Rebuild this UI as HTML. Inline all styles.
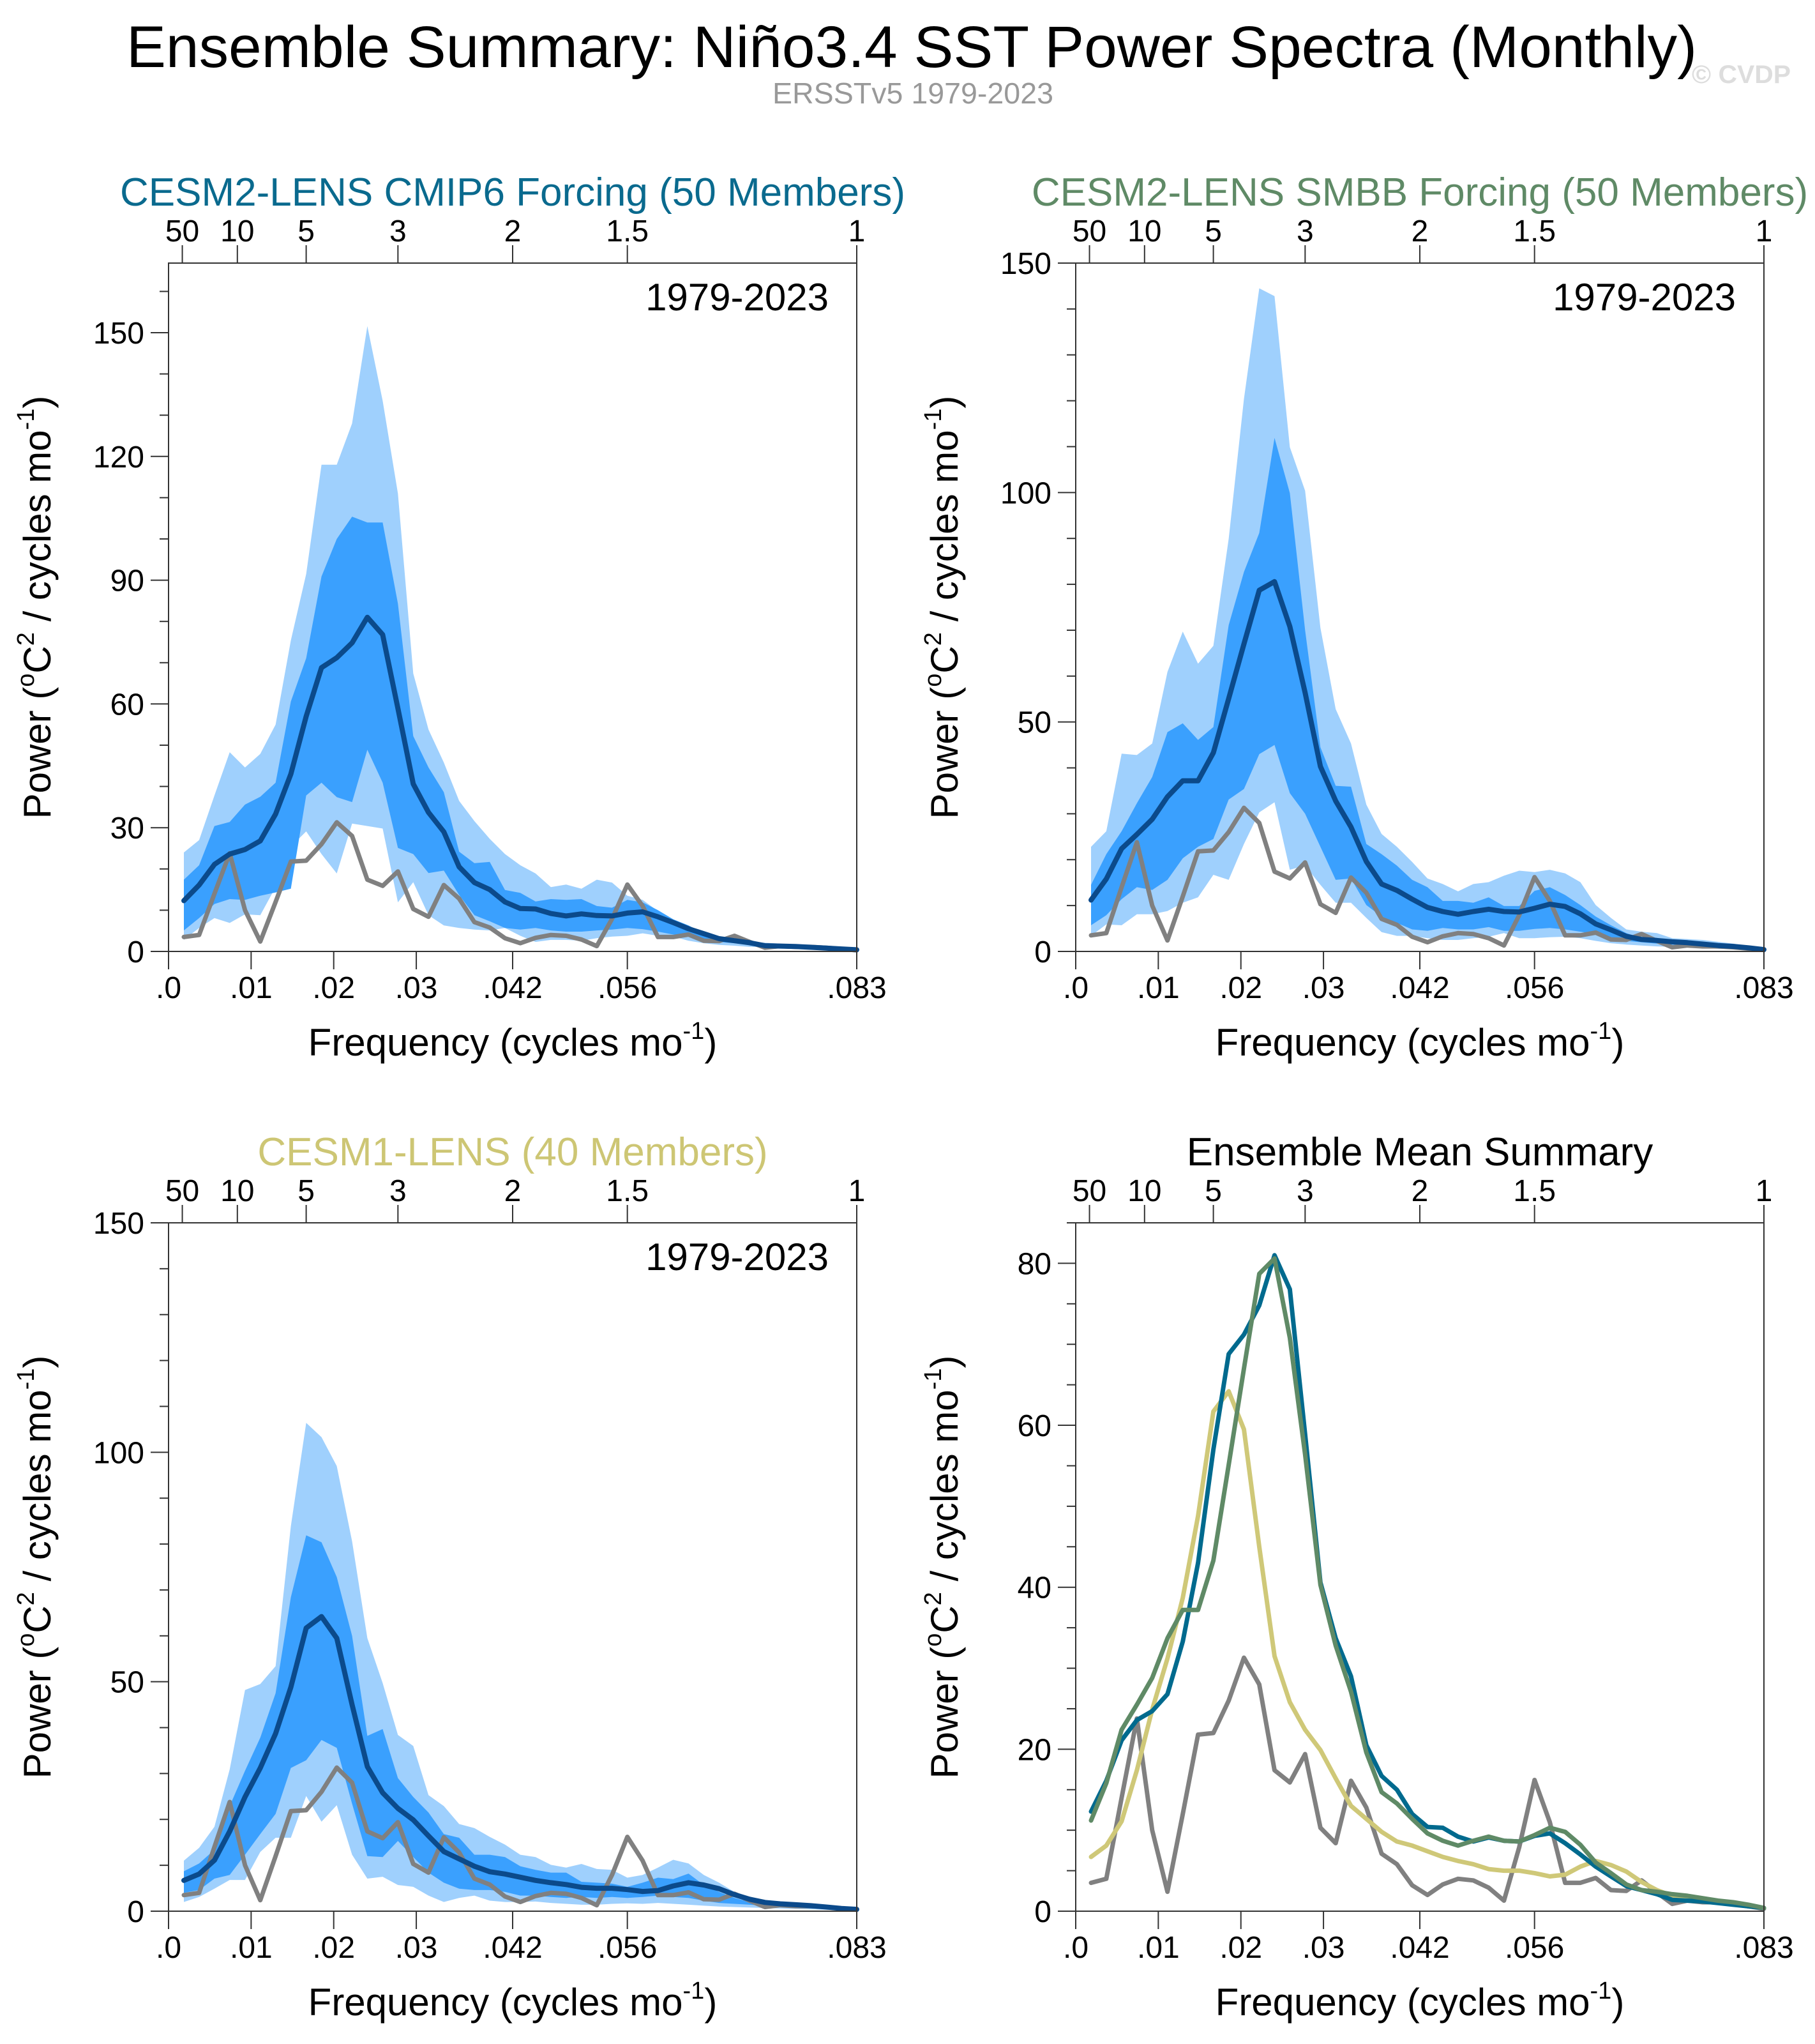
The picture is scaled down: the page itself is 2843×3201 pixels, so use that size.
<!DOCTYPE html>
<html>
<head>
<meta charset="utf-8">
<style>
  html, body { margin:0; padding:0; background:#ffffff; }
  svg { display:block; font-family:"Liberation Sans", Arial, sans-serif; }
</style>
</head>
<body>
<svg id="fig" xmlns="http://www.w3.org/2000/svg" width="2843" height="3201" viewBox="0 0 2843 3201">
  <rect x="0" y="0" width="2843" height="3201" fill="#ffffff"/>
  <text x="1428" y="105" font-size="92" text-anchor="middle" fill="#000" textLength="2460" lengthAdjust="spacingAndGlyphs">Ensemble Summary: Niño3.4 SST Power Spectra (Monthly)</text>
  <text x="1430" y="162" font-size="46" text-anchor="middle" fill="#999999" textLength="440" lengthAdjust="spacingAndGlyphs">ERSSTv5 1979-2023</text>
  <text x="2650" y="130" font-size="40" font-weight="bold" fill="#dddddd" textLength="155" lengthAdjust="spacingAndGlyphs">© CVDP</text>
  <g id="panels"></g>
</svg>
<script>
// ---------- data (45 spectral estimates, k = 1..45, freq = k/540 cycles/mo) ----------
const nPoints = 45;
const obs = [3.5,4.0,14,23.8,10,2.4,12,21.8,22,26,31.3,28,17.4,15.9,19.4,10.3,8.4,16.1,12.8,7.1,5.8,3.2,2.0,3.3,4.0,3.8,2.9,1.3,7.9,16.2,11,3.5,3.5,4.1,2.6,2.5,3.8,2.3,0.9,1.3,1.1,1.1,0.9,0.6,0.3];

const cmip6Mean = [12.3,16.1,21.1,23.6,24.7,26.8,33.3,43,57,68.8,71.2,74.8,81,76.8,58.9,40.6,33.7,29,20.5,16.7,15,12,10.4,10.3,9.2,8.6,9.1,8.7,8.6,9.3,9.6,8.4,7,5.5,4.3,3.1,2.6,2.1,1.4,1.3,1.2,1.0,0.8,0.6,0.4];
const cmip6LightHi = [24,27,37.8,48.3,44.6,47.9,55,75.4,91.5,118,118,128,151.6,133.5,111,67.4,53.8,45.8,36.5,31.6,27.3,23.6,20.9,18.9,15.6,16.2,15.2,17.4,16.7,13.5,12.5,9.8,7.8,4.8,4.1,3.1,2.6,2.3,2.1,1.9,1.5,1.2,0.9,0.5,0.3];
const cmip6LightLo = [2.8,5.7,8.1,6.9,9,8.8,15.6,25.4,29.1,23.6,18.9,31,30.4,29.8,11.9,16.8,8.8,6.3,5.7,5.3,5.1,5.7,3.8,2.3,2.8,2.8,2.6,3.2,3.6,3.8,4.4,3.8,3.6,2.6,2.0,1.6,1.4,1.1,1.1,1.0,0.9,0.6,0.5,0.4,0.2];
const cmip6DarkHi = [17.4,20.9,30.4,31.4,35.6,37.5,40.9,60.6,71.1,90.9,100,105.4,104,104,84.3,52.2,44.6,38.6,24.2,21.4,21.7,14.9,14.2,12.1,12.7,12.5,12.7,11,10.6,12.5,11.9,10,7.8,6.3,4.4,3.2,2.6,2.0,1.6,1.4,1.2,0.9,0.6,0.4,0.2];
const cmip6DarkLo = [5.1,8.1,11.5,12.7,12.5,13.5,14.3,15.2,37.8,40.9,37.4,36.2,48.9,40.9,25.1,23.6,19,19.6,13.7,8.8,7.3,5.7,5.3,5.7,5.1,4.8,4.8,5.1,5.3,5.7,5.4,4.8,4.1,3.6,2.8,2.3,2.0,1.6,1.3,1.1,0.9,0.7,0.5,0.4,0.2];

const smbbMean = [11.2,15.8,22.4,25.5,28.8,33.7,37.2,37.2,43.3,55.1,67,78.7,80.6,70.8,56.4,40.3,32.8,27.1,19.6,14.7,13.3,11.4,9.6,8.7,8.1,8.7,9.2,8.7,8.6,9.4,10.3,9.8,8.2,6,4.7,3.3,2.6,2.4,2.1,1.9,1.6,1.3,1.1,0.8,0.4];
const smbbLightHi = [22.8,26.2,43.1,42.8,45.3,60.9,69.7,62.7,66.6,89.9,120.4,144.5,142.8,109.9,100.4,70.5,52.8,45.3,32,25.6,22.8,19.5,15.9,14.7,13.1,14.7,15.1,16.5,17.6,17.3,17.8,17,15.1,10.1,7.3,4.8,4.3,4.0,2.9,2.7,2.5,2.1,1.7,1.2,0.3];
const smbbLightLo = [3.4,5.9,5.7,8.1,8.1,8.8,10.6,11.8,16.7,15.6,23.4,30.3,32.5,17.8,18.7,14.5,10.6,10.6,7.3,4.2,3.4,3.4,2.9,2.5,2.5,2.9,3.2,4.0,2.9,2.9,3.1,3.2,2.9,2.3,1.8,1.5,1.3,1.1,1.0,0.9,0.8,0.6,0.5,0.4,0.2];
const smbbDarkHi = [14.5,21.2,26.2,32.3,38,47.8,49.7,46.1,48.9,71.1,82.7,91.2,111.9,99.9,70,44.5,36.1,35.9,23.4,21.2,18.7,15.6,14,11,11,10.6,11.8,9.9,9.9,13.2,14,12.3,10.1,7.6,5.7,4.0,2.9,2.3,2.1,1.8,1.5,1.3,1.1,0.8,0.3];
const smbbDarkLo = [5.7,7.9,11.4,14,13.4,15.6,20.3,22.8,24.5,33.1,35.4,43,45,34.5,30,22.8,15.6,15.9,10.1,7.6,6.2,4.8,4.5,5.1,4.8,4.8,5.3,4.5,4.5,4.9,5.1,4.8,4.3,3.8,3.1,2.3,2.0,1.7,1.5,1.3,1.1,0.9,0.7,0.5,0.2];

const cesm1Mean = [6.7,8.1,11.1,17.4,24.9,31.2,38.7,48.8,61.7,64.2,59.5,45,31.5,25.8,22.4,19.9,16.4,13,11.4,9.8,8.6,8.1,7.4,6.7,6.2,5.8,5.2,5,5,4.7,4.3,4.5,5.5,6.2,5.7,4.9,3.6,2.6,1.9,1.6,1.4,1.2,0.9,0.6,0.4];
const cesm1LightHi = [11,13.8,18.4,30.9,48.2,49.5,53.4,83.9,106.4,103.3,97,80.6,59.5,49.7,38.4,36,25.3,22.9,19,18.1,16.2,14.5,12.3,11.8,10.1,9.5,10.3,9.2,9,7.3,7.9,9.5,11.2,10.4,7.9,6.2,4.2,3.1,2.3,1.8,1.3,1.0,0.9,0.6,0.2];
const cesm1LightLo = [2,3.1,4.9,6.8,6.8,12.9,16,16,25.1,19.5,23.1,12.3,7.1,7.5,5.7,5.3,3.4,2,2.9,3.4,2.3,2,2.0,2.1,1.8,1.6,1.4,1.4,1.6,1.7,1.6,1.8,1.6,1.4,1.2,1.0,0.9,0.8,0.7,0.6,0.5,0.4,0.3,0.2,0.1];
const cesm1DarkHi = [8.7,10.4,13.4,22.9,30.6,37.8,47.5,68.4,81.9,80.4,72.8,60,38.2,39.7,29,24.9,21.5,16.8,16,12.3,12.3,11.8,9.8,9,8.4,8.4,6.4,6.2,6,5.3,6.2,7.3,7,8.2,5.7,4.2,2.9,2.0,1.6,1.2,0.9,0.7,0.6,0.4,0.2];
const cesm1DarkLo = [4,4.6,7.1,7.9,12.3,16.8,21.2,31.2,32.9,37.3,35.6,23.4,12,11.8,15.3,11.8,8.4,6.2,4.9,4.6,4.6,4.2,3.4,3.4,3.1,2.9,3.1,2.9,3.1,2.9,3.1,3.4,3.1,2.9,2.3,1.8,1.6,1.4,1.2,1.0,0.8,0.6,0.5,0.3,0.2];

const freqTickLabels = [".0",".01",".02",".03",".042",".056",".083"];
const freqTickValues = [0,0.01,0.02,0.03,1/24,1/18,1/12];
const periodTickLabels = ["50","10","5","3","2","1.5","1"];
const periodTickYears = [50,10,5,3,2,1.5,1];

// ---------- layout ----------
const NS = "http://www.w3.org/2000/svg";
const root = document.getElementById('panels');
const PW = 1078, PH = 1078, FMAX = 1/12;

function mk(tag, attrs, parent) {
  const e = document.createElementNS(NS, tag);
  for (const k in attrs) e.setAttribute(k, attrs[k]);
  (parent || root).appendChild(e);
  return e;
}

function drawPanel(p) {
  const g = mk('g', {});
  
  
  const xS = f => p.x0 + f / FMAX * PW;
  const yS = v => p.y0 + PH - v / p.ymax * PH;
  const fk = i => (i + 1) / 540;

  // bands
  function band(hi, lo, color, nm) {
    let d = '';
    for (let i = 0; i < nPoints; i++) d += (i ? 'L' : 'M') + xS(fk(i)).toFixed(1) + ',' + yS(hi[i]).toFixed(1);
    for (let i = nPoints - 1; i >= 0; i--) d += 'L' + xS(fk(i)).toFixed(1) + ',' + yS(lo[i]).toFixed(1);
    const e = mk('path', {d: d + 'Z', fill: color, stroke: 'none'}, g);
    
    
  }
  function line(vals, color, w, nm) {
    let d = '';
    for (let i = 0; i < nPoints; i++) d += (i ? 'L' : 'M') + xS(fk(i)).toFixed(1) + ',' + yS(vals[i]).toFixed(1);
    const e = mk('path', {d: d, fill: 'none', stroke: color, 'stroke-width': w, 'stroke-linejoin': 'round', 'stroke-linecap': 'round'}, g);
    
    
  }
  if (p.bands) {
    band(p.bands.lh, p.bands.ll, '#9fd0fd', 'outer-range-band');
    band(p.bands.dh, p.bands.dl, '#3aa0fe', 'inner-range-band');
  }
  p.lines.forEach(l => line(l.v, l.c, l.w, l.n));

  // box
  const box = mk('rect', {x: p.x0, y: p.y0, width: PW, height: PH, fill: 'none', stroke: '#333', 'stroke-width': 2}, g);
  
  

  // y ticks
  for (let v = 0; v <= p.ymax + 1e-6; v += p.yminor) {
    const major = Math.abs(v / p.ymajor - Math.round(v / p.ymajor)) < 1e-6;
    const y = yS(v);
    mk('line', {x1: p.x0, x2: p.x0 - (major ? 28 : 14), y1: y, y2: y, stroke: '#333', 'stroke-width': 2}, g);
    if (major) {
      const t = mk('text', {x: p.x0 - 38, y: y + 17, 'font-size': 48, 'text-anchor': 'end', fill: '#000'}, g);
      t.textContent = String(v);
      
      
    }
  }
  // bottom x ticks
  freqTickValues.forEach((f, i) => {
    const x = xS(f);
    mk('line', {x1: x, x2: x, y1: p.y0 + PH, y2: p.y0 + PH + 28, stroke: '#333', 'stroke-width': 2}, g);
    const t = mk('text', {x: x, y: p.y0 + PH + 73, 'font-size': 48, 'text-anchor': 'middle', fill: '#000'}, g);
    t.textContent = freqTickLabels[i];
    
    
  });
  // top period ticks
  periodTickYears.forEach((yr, i) => {
    const x = xS(1 / (12 * yr));
    mk('line', {x1: x, x2: x, y1: p.y0, y2: p.y0 - 28, stroke: '#333', 'stroke-width': 2}, g);
    const t = mk('text', {x: x, y: p.y0 - 34, 'font-size': 48, 'text-anchor': 'middle', fill: '#000'}, g);
    t.textContent = periodTickLabels[i];
    
    
  });
  // titles
  const tt = mk('text', {x: p.x0 + PW / 2, y: p.y0 - 90, 'font-size': 62, 'text-anchor': 'middle', fill: p.tcolor}, g);
  tt.textContent = p.title;
  
  
  if (p.year) {
    const yt = mk('text', {x: p.x0 + PW - 44, y: p.y0 + 74, 'font-size': 60, 'text-anchor': 'end', fill: '#000'}, g);
    yt.textContent = '1979-2023';
    
    
  }
  // x title
  const xt = mk('text', {x: p.x0 + PW / 2, y: p.y0 + PH + 163, 'font-size': 60, 'text-anchor': 'middle', fill: '#000'}, g);
  
  
  xt.innerHTML = 'Frequency (cycles mo<tspan font-size="38" dy="-26">-1</tspan><tspan dy="26">)</tspan>';
  // y title
  const cy = p.y0 + PH / 2, cx = p.x0 - 185;
  const ytl = mk('text', {x: cx, y: cy, 'font-size': 60, 'text-anchor': 'middle', fill: '#000', transform: 'rotate(-90 ' + cx + ' ' + cy + ')'}, g);
  
  
  ytl.innerHTML = 'Power (<tspan font-size="38" dy="-26">o</tspan><tspan dy="26">C</tspan><tspan font-size="38" dy="-26">2</tspan><tspan dy="26"> / cycles mo</tspan><tspan font-size="38" dy="-26">-1</tspan><tspan dy="26">)</tspan>';
}

const navy = '#0b4a8b', gray = '#808080';
drawPanel({name: 'panel-cesm2-cmip6', x0: 264, y0: 412, ymax: 1078 / 6.46, ymajor: 30, yminor: 10,
  title: 'CESM2-LENS CMIP6 Forcing (50 Members)', tcolor: '#0a6a8e', year: true,
  bands: {lh: cmip6LightHi, ll: cmip6LightLo, dh: cmip6DarkHi, dl: cmip6DarkLo},
  lines: [{v: obs, c: gray, w: 7, n: 'observed-line'}, {v: cmip6Mean, c: navy, w: 8, n: 'ensemble-mean-line'}]});
drawPanel({name: 'panel-cesm2-smbb', x0: 1685, y0: 412, ymax: 150, ymajor: 50, yminor: 10,
  title: 'CESM2-LENS SMBB Forcing (50 Members)', tcolor: '#5f8a66', year: true,
  bands: {lh: smbbLightHi, ll: smbbLightLo, dh: smbbDarkHi, dl: smbbDarkLo},
  lines: [{v: obs, c: gray, w: 7, n: 'observed-line'}, {v: smbbMean, c: navy, w: 8, n: 'ensemble-mean-line'}]});
drawPanel({name: 'panel-cesm1', x0: 264, y0: 1915, ymax: 150, ymajor: 50, yminor: 10,
  title: 'CESM1-LENS (40 Members)', tcolor: '#cdc674', year: true,
  bands: {lh: cesm1LightHi, ll: cesm1LightLo, dh: cesm1DarkHi, dl: cesm1DarkLo},
  lines: [{v: obs, c: gray, w: 7, n: 'observed-line'}, {v: cesm1Mean, c: navy, w: 8, n: 'ensemble-mean-line'}]});
drawPanel({name: 'panel-ensemble-mean-summary', x0: 1685, y0: 1915, ymax: 85, ymajor: 20, yminor: 5,
  title: 'Ensemble Mean Summary', tcolor: '#000', year: false, bands: null,
  lines: [{v: obs, c: gray, w: 7, n: 'observed-line'},
          {v: cesm1Mean, c: '#cfc878', w: 7, n: 'cesm1-mean-line'},
          {v: cmip6Mean, c: '#006a8e', w: 7, n: 'cmip6-mean-line'},
          {v: smbbMean, c: '#5f8a66', w: 7, n: 'smbb-mean-line'}]});
</script>
</body>
</html>
